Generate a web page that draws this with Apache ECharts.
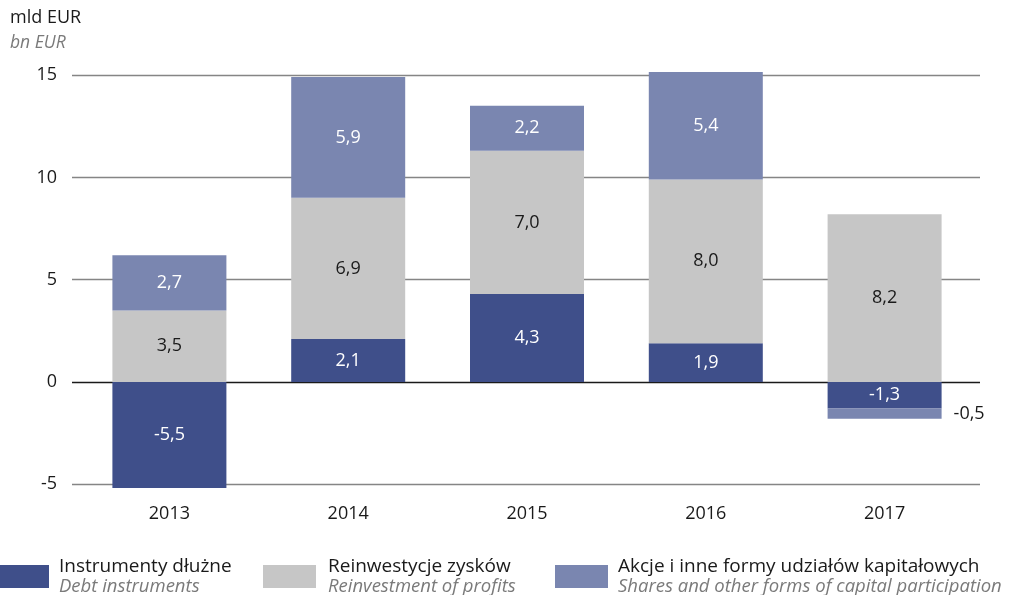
<!DOCTYPE html>
<html>
<head>
<meta charset="utf-8">
<script src="https://cdn.jsdelivr.net/npm/echarts@6/dist/echarts.min.js"></script>
<style>
  html, body { margin: 0; padding: 0; background: #fff; }
  #chart { width: 1012px; height: 595px; }
</style>
</head>
<body>
<div id="chart"></div>
<script>
// Years on the horizontal axis
const years = ['2013', '2014', '2015', '2016', '2017'];

// Components of FDI flows, bn EUR
const debtInstruments = [-5.5, 2.1, 4.3, 1.9, -1.3];
const reinvestedProfits = [3.5, 6.9, 7.0, 8.0, 8.2];
const sharesAndEquity = [2.7, 5.9, 2.2, 5.4, -0.5];

// Y-axis tick values
const yTicks = [-5, 0, 5, 10, 15];

// Legend names (Polish / English)
const seriesNamesPl = ['Instrumenty dłużne', 'Reinwestycje zysków', 'Akcje i inne formy udziałów kapitałowych'];
const seriesNamesEn = ['Debt instruments', 'Reinvestment of profits', 'Shares and other forms of capital participation'];

const FONT = '"Open Sans", "Noto Sans", sans-serif';
const colors = ['#3f4f8a', '#c6c6c6', '#7a86b0'];
const labelColors = ['#ffffff', '#1a1a1a', '#ffffff'];
const Y_MIN = -5.18, Y_MAX = 15.15;
const TOP = 72, HEIGHT = 416;

function fmt(v) {
  return v.toFixed(1).replace('.', ',');
}

function buildData(values, seriesIdx) {
  return values.map((v, i) => {
    const item = { value: v };
    // small negative slice in 2017 carries its label outside the bar
    if (seriesIdx === 2 && years[i] === '2017') {
      item.label = { position: 'right', distance: 12, color: '#1a1a1a' };
    }
    return item;
  });
}

const allValues = [debtInstruments, reinvestedProfits, sharesAndEquity];

const series = allValues.map((vals, si) => ({
  name: seriesNamesPl[si],
  type: 'bar',
  stack: 'fdi',
  xAxisIndex: 0,
  yAxisIndex: 0,
  barWidth: 114,
  itemStyle: { color: colors[si] },
  emphasis: { disabled: true },
  label: {
    show: true,
    position: 'inside',
    color: labelColors[si],
    fontFamily: FONT,
    fontSize: 18,
    formatter: p => fmt(p.value)
  },
  data: buildData(vals, si)
}));

const legends = seriesNamesPl.map((name, i) => ({
  data: [name],
  left: [-4, 263, 555][i],
  top: 557,
  itemWidth: 53,
  itemHeight: 23,
  itemGap: 0,
  padding: 0,
  icon: 'rect',
  selectedMode: false,
  formatter: () => '{a|' + seriesNamesPl[i] + '}\n{b|' + seriesNamesEn[i] + '}',
  textStyle: {
    padding: [0, 0, 0, [5, 7, 5][i]],
    rich: {
      a: { fontFamily: FONT, fontSize: 19, color: '#1a1a1a', lineHeight: 20 },
      b: { fontFamily: FONT, fontSize: 18.5, fontStyle: 'italic', color: '#7a7a7a', lineHeight: 20 }
    }
  }
}));

const chart = echarts.init(document.getElementById('chart'), null, { renderer: 'canvas' });
chart.setOption({
  animation: false,
  backgroundColor: '#ffffff',
  title: {
    text: 'mld EUR',
    subtext: 'bn EUR',
    left: 10,
    top: 9,
    padding: 0,
    itemGap: 7,
    textStyle: { fontFamily: FONT, fontSize: 18, fontWeight: 'normal', color: '#1a1a1a' },
    subtextStyle: { fontFamily: FONT, fontSize: 17.5, fontStyle: 'italic', color: '#7a7a7a' }
  },
  legend: legends,
  grid: [
    // bars
    { left: 80, width: 894, top: TOP, height: HEIGHT },
    // value scale and grid lines, a little wider than the bar band
    { left: 72, width: 908, top: TOP, height: HEIGHT }
  ],
  xAxis: [
    {
      type: 'category',
      gridIndex: 0,
      data: years,
      axisLine: { show: false },
      axisTick: { show: false },
      splitLine: { show: false },
      axisLabel: { fontFamily: FONT, fontSize: 18, color: '#1a1a1a', margin: 17 }
    },
    { type: 'value', gridIndex: 1, show: false }
  ],
  yAxis: [
    {
      type: 'value',
      gridIndex: 0,
      min: Y_MIN,
      max: Y_MAX,
      show: false,
      splitLine: { show: false }
    },
    {
      type: 'value',
      gridIndex: 1,
      min: Y_MIN,
      max: Y_MAX,
      axisLine: { show: false },
      axisTick: { show: false, customValues: yTicks },
      axisLabel: {
        customValues: yTicks,
        fontFamily: FONT,
        fontSize: 18,
        color: '#1a1a1a',
        margin: 15
      },
      splitLine: {
        show: true,
        lineStyle: {
          color: ['#858585', '#1a1a1a', '#858585', '#858585', '#858585'],
          width: 1.4
        }
      }
    }
  ],
  series: series
});
</script>
</body>
</html>
